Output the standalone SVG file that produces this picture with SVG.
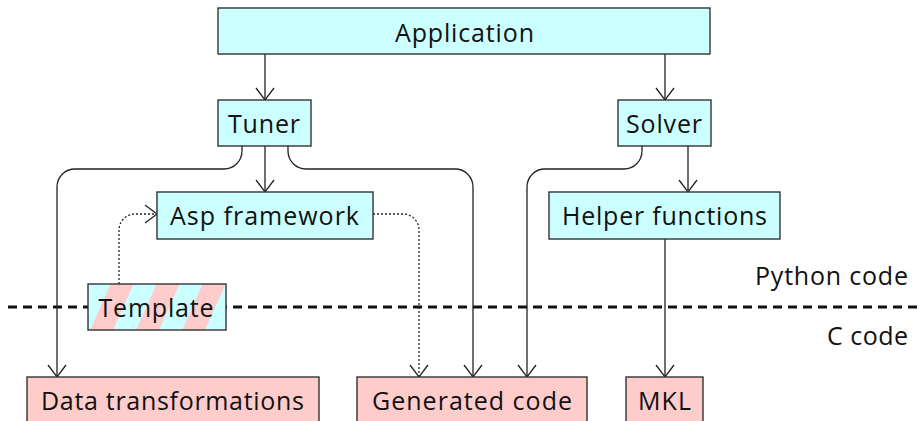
<svg xmlns="http://www.w3.org/2000/svg" width="922" height="421" viewBox="0 0 922 421">
<style>
.box{stroke:#333;stroke-width:1.4}
.py{fill:#ccffff}
.c{fill:#ffcccc}
.t{font-family:"Open Sans","Noto Sans","DejaVu Sans",sans-serif;font-size:25px;fill:#111;text-anchor:middle}
.r{text-anchor:end}
.ln{fill:none;stroke:#222;stroke-width:1.3}
.dot{stroke-dasharray:2 2}
</style>
<defs>
<marker id="arr" markerUnits="userSpaceOnUse" orient="auto" markerWidth="30" markerHeight="30" refX="0" refY="0" viewBox="-15 -15 30 30" overflow="visible">
<path d="M-12,-9 L0,0 L-12,9" fill="none" stroke="#222" stroke-width="1.3"/>
</marker>
<pattern id="stripes" patternUnits="userSpaceOnUse" x="30" y="0" width="46" height="46" patternTransform="skewX(-24)">
<rect x="0" y="0" width="46" height="46" fill="#ffcccc"/>
<rect x="0" y="0" width="23" height="46" fill="#ccffff"/>
</pattern>
</defs>
<line x1="8" y1="307" x2="922" y2="307" stroke="#111" stroke-width="3" stroke-dasharray="9 6"/>
<g id="connectors">
<path class="ln" d="M265,54 V100" marker-end="url(#arr)"/>
<path class="ln" d="M665,54 V100" marker-end="url(#arr)"/>
<path class="ln" d="M265,146 V192" marker-end="url(#arr)"/>
<path class="ln" d="M688,146 V192" marker-end="url(#arr)"/>
<path class="ln" d="M665,239 V377" marker-end="url(#arr)"/>
<path class="ln" d="M242,146 V151 A18,18 0 0 1 224,169 H75 A18,18 0 0 0 57,187 V377" marker-end="url(#arr)"/>
<path class="ln" d="M288,146 V151 A18,18 0 0 0 306,169 H455 A18,18 0 0 1 473,187 V377" marker-end="url(#arr)"/>
<path class="ln" d="M642,146 V151 A18,18 0 0 1 624,169 H545 A18,18 0 0 0 527,187 V377" marker-end="url(#arr)"/>
<path class="ln dot" d="M119,284 V230 A16,16 0 0 1 135,214 H157" marker-end="url(#arr)"/>
<path class="ln dot" d="M373,214 H403 A16,16 0 0 1 419,230 V377" marker-end="url(#arr)"/>
</g>
<g id="application"><rect class="box py" x="218" y="8" width="492" height="46"/><text class="t" x="464.5" y="42" textLength="139">Application</text></g>
<g id="tuner"><rect class="box py" x="218" y="100" width="93" height="46"/><text class="t" x="264" y="133" textLength="72">Tuner</text></g>
<g id="solver"><rect class="box py" x="618" y="100" width="93" height="46"/><text class="t" x="664" y="133" textLength="76">Solver</text></g>
<g id="asp"><rect class="box py" x="157" y="192" width="216" height="47"/><text class="t" x="264.5" y="225" textLength="189">Asp framework</text></g>
<g id="helper"><rect class="box py" x="549" y="192" width="231" height="47"/><text class="t" x="664.5" y="225" textLength="205">Helper functions</text></g>
<g id="template"><rect class="box" fill="url(#stripes)" x="88" y="284" width="138" height="46"/><text class="t" x="156" y="317" textLength="115">Template</text></g>
<g id="data"><rect class="box c" x="27" y="377" width="292" height="50"/><text class="t" x="172.5" y="410" textLength="263">Data transformations</text></g>
<g id="generated"><rect class="box c" x="357" y="377" width="230" height="50"/><text class="t" x="472" y="410" textLength="200">Generated code</text></g>
<g id="mkl"><rect class="box c" x="626" y="377" width="77" height="50"/><text class="t" x="664.5" y="410" textLength="53">MKL</text></g>
<g id="labels">
<text class="t r" x="908" y="285" textLength="153">Python code</text>
<text class="t r" x="908" y="345" textLength="81">C code</text>
</g>
</svg>
